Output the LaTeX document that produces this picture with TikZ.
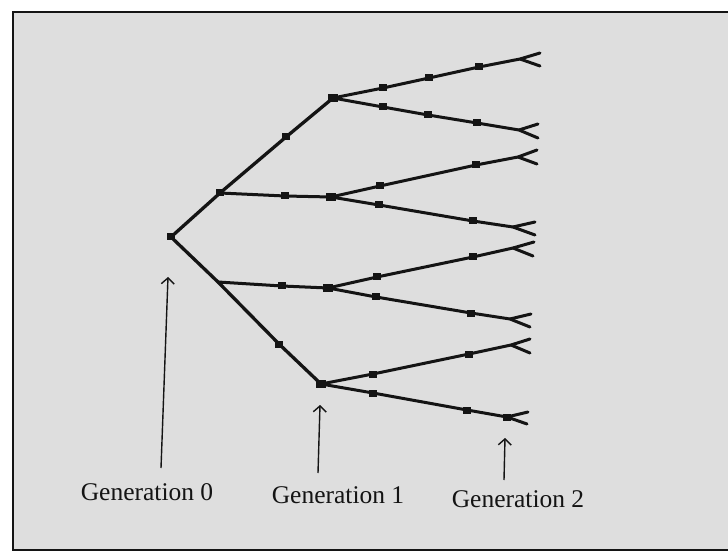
\documentclass[tikz,border=0pt]{standalone}
\usepackage{fontspec}
\setmainfont{Liberation Serif}
\usetikzlibrary{arrows.meta}
\definecolor{bg}{HTML}{DEDEDE}
\definecolor{ink}{HTML}{141414}
\begin{document}
\begin{tikzpicture}[x=1pt,y=-1pt,
  tree/.style={line width=3pt, ink, line cap=round, line join=round},
  mk/.style={rectangle, fill=ink, inner sep=0pt, minimum width=8pt, minimum height=7pt},
  gk/.style={mk, minimum width=10pt, minimum height=8pt},
  genarrow/.style={line width=1.4pt, ink, -{Straight Barb[length=6pt,width=13pt,line width=1.4pt]}},
  lbl/.style={font=\fontsize{25.5}{28}\selectfont, anchor=base, inner sep=0pt, text=ink}]
\useasboundingbox (0,0) rectangle (728,553);
\fill[white] (0,0) rectangle (728,553);
\fill[bg] (13,12) rectangle (728,550);
\draw[line width=2pt, ink] (728,12) -- (13,12) -- (13,550) -- (728,550);

% generation 0 and 1 skeleton
\node[mk] (r) at (171,237) {};
\node[mk] (a1) at (220,193) {};
\node[mk] (a2) at (286,137) {};
\node[gk] (g1a) at (333,98) {};
\node[mk] (b1) at (285,196) {};
\node[gk] (g1b) at (331,197) {};
\coordinate (c1) at (218,282);
\node[mk] (c2) at (279,344) {};
\node[gk] (g1d) at (321,384) {};
\node[mk] (d1) at (282,286) {};
\node[gk] (g1c) at (328,288) {};

\draw[tree, line width=3.3pt] (r.center) -- (a1.center) -- (a2.center) -- (g1a.center);
\draw[tree] (a1.center) -- (b1.center) -- (g1b.center);
\draw[tree, line width=3.3pt] (r.center) -- (c1) -- (c2.center) -- (g1d.center);
\draw[tree] (c1) -- (d1.center) -- (g1c.center);

% branch markers
\node[mk] (m11) at (383,88) {};
\node[mk] (m12) at (429,78) {};
\node[mk] (m13) at (479,67) {};
\node[mk] (m21) at (383,107) {};
\node[mk] (m22) at (428,115) {};
\node[mk] (m23) at (477,123) {};
\node[mk] (m31) at (380,186) {};
\node[mk] (m32) at (476,165) {};
\node[mk] (m41) at (379,205) {};
\node[mk] (m42) at (473,221) {};
\node[mk] (m51) at (377,277) {};
\node[mk] (m52) at (473,257) {};
\node[mk] (m61) at (376,297) {};
\node[mk] (m62) at (471,313) {};
\node[mk] (m71) at (373,374) {};
\node[mk] (m72) at (469,354) {};
\node[mk] (m81) at (373,393) {};
\node[mk] (m82) at (467,410) {};
\node[mk] (m83) at (507,417) {};

% forks and prong ends
\coordinate (f1) at (520,59);  \coordinate (p1a) at (540,53);  \coordinate (p1b) at (540,66);
\coordinate (f2) at (519,130); \coordinate (p2a) at (538,124); \coordinate (p2b) at (538,138);
\coordinate (f3) at (518,157); \coordinate (p3a) at (537,150); \coordinate (p3b) at (537,164);
\coordinate (f4) at (513,227); \coordinate (p4a) at (535,222); \coordinate (p4b) at (535,235);
\coordinate (f5) at (513,248); \coordinate (p5a) at (534,242); \coordinate (p5b) at (533,256);
\coordinate (f6) at (510,319); \coordinate (p6a) at (531,314); \coordinate (p6b) at (530,327);
\coordinate (f7) at (511,345); \coordinate (p7a) at (530,339); \coordinate (p7b) at (530,353);
\coordinate (p8a) at (528,412); \coordinate (p8b) at (527,424);

\draw[tree] (g1a.center) -- (m11.center) -- (m12.center) -- (m13.center) -- (f1) -- (p1a);
\draw[tree] (f1) -- (p1b);
\draw[tree] (g1a.center) -- (m21.center) -- (m22.center) -- (m23.center) -- (f2) -- (p2b);
\draw[tree] (f2) -- (p2a);
\draw[tree] (g1b.center) -- (m31.center) -- (m32.center) -- (f3) -- (p3a);
\draw[tree] (f3) -- (p3b);
\draw[tree] (g1b.center) -- (m41.center) -- (m42.center) -- (f4) -- (p4b);
\draw[tree] (f4) -- (p4a);
\draw[tree] (g1c.center) -- (m51.center) -- (m52.center) -- (f5) -- (p5a);
\draw[tree] (f5) -- (p5b);
\draw[tree] (g1c.center) -- (m61.center) -- (m62.center) -- (f6) -- (p6b);
\draw[tree] (f6) -- (p6a);
\draw[tree] (g1d.center) -- (m71.center) -- (m72.center) -- (f7) -- (p7a);
\draw[tree] (f7) -- (p7b);
\draw[tree] (g1d.center) -- (m81.center) -- (m82.center) -- (m83.center) -- (p8b);
\draw[tree] (m83.center) -- (p8a);

% labels and arrows
\node[lbl] (l0) at (147,500) {Generation 0};
\node[lbl] (l1) at (338,503) {Generation 1};
\node[lbl] (l2) at (518,507) {Generation 2};
\coordinate (s0) at (161,468); \coordinate (t0) at (168,277);
\coordinate (s1) at (318,473); \coordinate (t1) at (320,405);
\coordinate (s2) at (504,480); \coordinate (t2) at (505,438);
\draw[genarrow] (s0) -- (t0);
\draw[genarrow] (s1) -- (t1);
\draw[genarrow] (s2) -- (t2);
\end{tikzpicture}
\end{document}
